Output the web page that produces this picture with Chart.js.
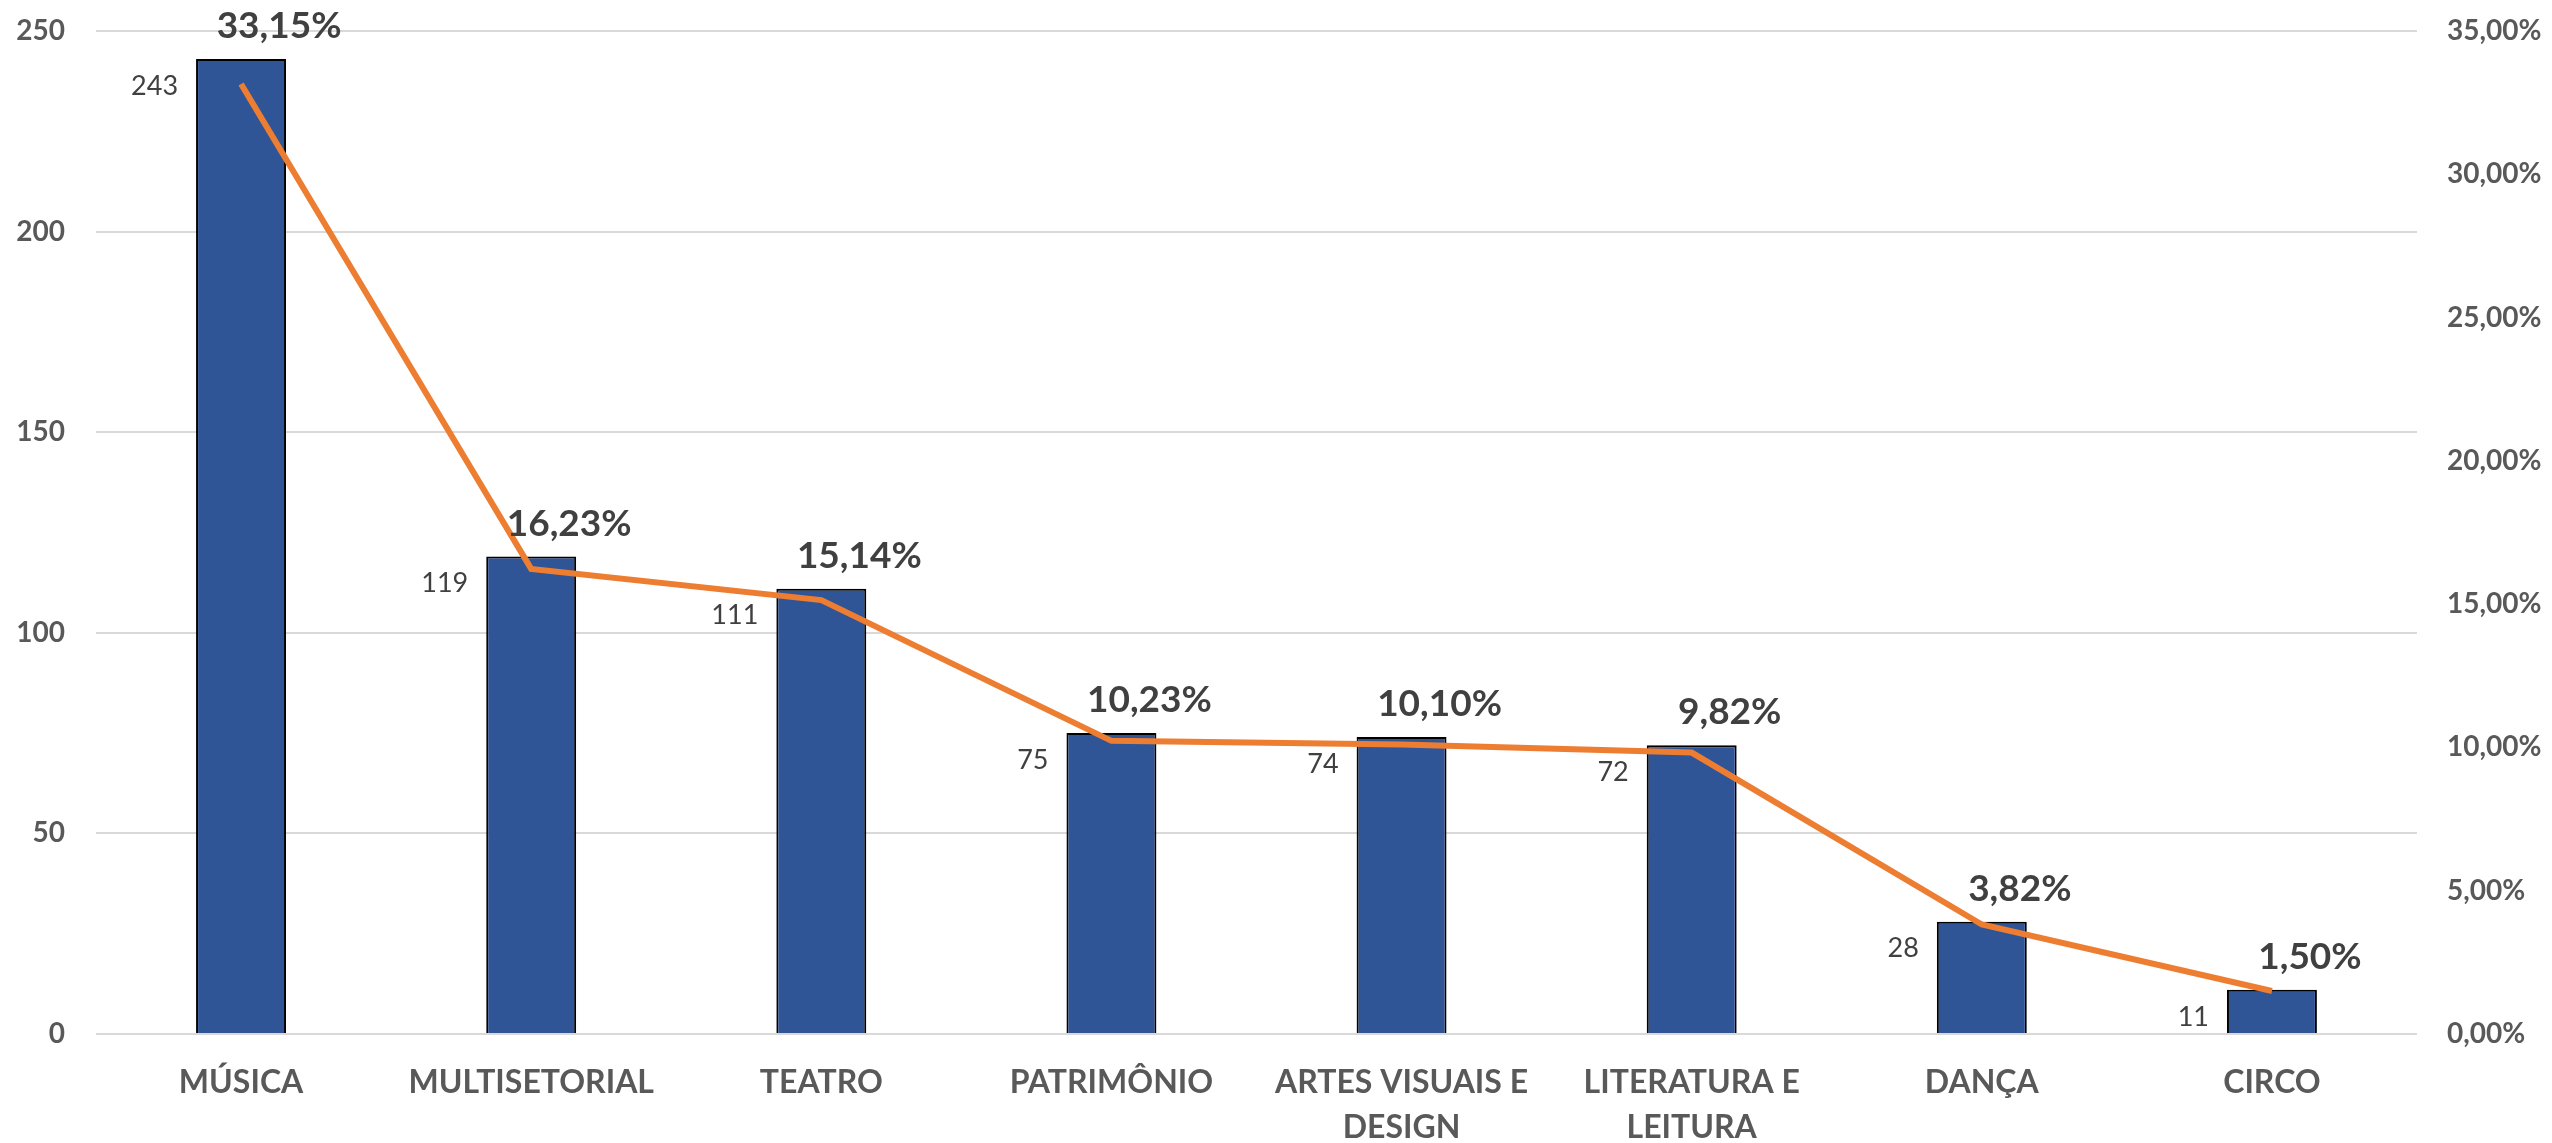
<!DOCTYPE html>
<html>
<head>
<meta charset="utf-8">
<script src="https://cdn.jsdelivr.net/npm/chart.js@4"></script>
<style>
  html, body { margin: 0; padding: 0; background: #fff; }
  #wrap { width: 2552px; height: 1143px; }
</style>
</head>
<body>
<div id="wrap"><canvas id="chart" width="2552" height="1143"></canvas></div>
<script>
// data
const categories = ["MÚSICA", "MULTISETORIAL", "TEATRO", "PATRIMÔNIO", ["ARTES VISUAIS E", "DESIGN"], ["LITERATURA E", "LEITURA"], "DANÇA", "CIRCO"];
const counts = [243, 119, 111, 75, 74, 72, 28, 11];
const shares = [33.15, 16.23, 15.14, 10.23, 10.10, 9.82, 3.82, 1.50];

const FONT = "Lato, 'Open Sans', sans-serif";

function pct(v) {
  return v.toFixed(2).replace(".", ",") + "%";
}

// draws the value labels (no datalabels plugin available offline)
const labelPlugin = {
  id: "labels",
  afterDatasetsDraw(chart) {
    const ctx = chart.ctx;
    ctx.save();
    const bars = chart.getDatasetMeta(1).data;
    const pts = chart.getDatasetMeta(0).data;
    ctx.fillStyle = "#404040";
    ctx.font = "27px " + FONT;
    ctx.textAlign = "right";
    ctx.textBaseline = "middle";
    bars.forEach(function (b, i) {
      ctx.fillText(String(counts[i]), b.x - b.width / 2 - 18, b.y + 27);
    });
    // percentage sits above whichever is higher: bar top or line point
    ctx.font = "bold 37px " + FONT;
    ctx.textAlign = "center";
    pts.forEach(function (p, i) {
      const top = Math.min(p.y, bars[i].y);
      ctx.fillText(pct(shares[i]), p.x + 38, top - 33);
    });
    ctx.restore();
  },
};

// keep the plot area where the reference has it
function fitY(w) {
  return function (scale) {
    scale.width = w;
    scale.paddingTop = 0;
    scale.paddingBottom = 0;
  };
}

const ctx = document.getElementById("chart").getContext("2d");
new Chart(ctx, {
  data: {
    labels: categories,
    datasets: [
      {
        type: "line",
        data: shares,
        yAxisID: "y1",
        borderColor: "#ED7D31",
        borderWidth: 6,
        pointRadius: 0,
        tension: 0,
        order: 0,
      },
      {
        type: "bar",
        data: counts,
        yAxisID: "y",
        backgroundColor: "#2F5597",
        borderColor: "#000000",
        borderWidth: 2,
        barPercentage: 0.31,
        categoryPercentage: 1,
        order: 1,
      },
    ],
  },
  options: {
    responsive: false,
    animation: false,
    layout: { padding: { top: 31, left: 0, right: 0, bottom: 0 } },
    plugins: {
      legend: { display: false },
      tooltip: { enabled: false },
    },
    scales: {
      x: {
        grid: { display: false },
        border: { display: false },
        ticks: {
          color: "#595959",
          padding: 18,
          maxRotation: 0,
          autoSkip: false,
          font: { family: FONT, size: 32, weight: "bold", lineHeight: 1.4 },
        },
        afterFit(scale) { scale.height = 109; },
      },
      y: {
        position: "left",
        min: 0,
        max: 250,
        ticks: {
          stepSize: 50,
          color: "#595959",
          padding: 31,
          font: { family: FONT, size: 28, weight: "bold" },
        },
        grid: { color: "#D9D9D9", lineWidth: 2, drawTicks: false },
        border: { display: false },
        afterFit: fitY(96),
      },
      y1: {
        position: "right",
        min: 0,
        max: 35,
        ticks: {
          stepSize: 5,
          color: "#595959",
          padding: 30,
          font: { family: FONT, size: 28, weight: "bold" },
          callback: function (v) { return pct(v); },
        },
        grid: { drawOnChartArea: false, drawTicks: false },
        border: { display: false },
        afterFit: fitY(135),
      },
    },
  },
  plugins: [labelPlugin],
});
</script>
</body>
</html>
